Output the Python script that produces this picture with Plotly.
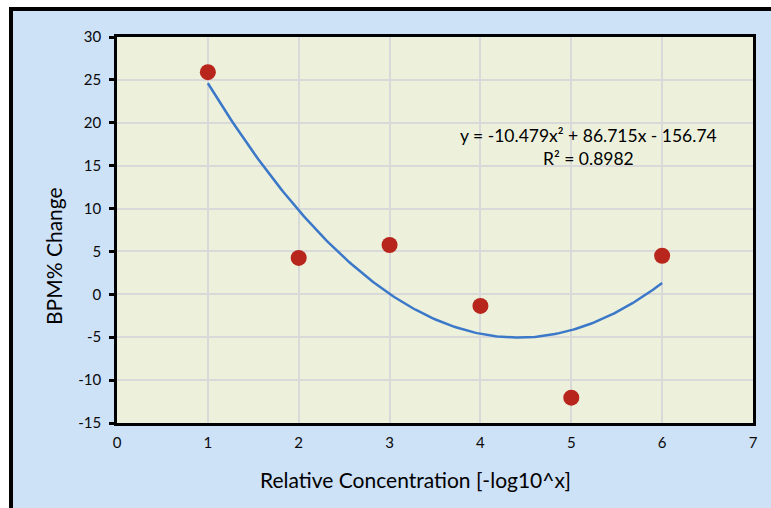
import numpy as np
import plotly.graph_objects as go

# Data
conc = [1, 2, 3, 4, 5, 6]
bpm_change = [25.9, 4.25, 5.75, -1.35, -12.05, 4.5]
x_ticks = [0, 1, 2, 3, 4, 5, 6, 7]
y_ticks = [-15, -10, -5, 0, 5, 10, 15, 20, 25, 30]
y_tick_labels = ["-15", "-10", "-5", "0", "5", "10", "15", "20", "25", "30"]
eq_text = "y = -10.479x² + 86.715x - 156.74<br>R² = 0.8982"
x_title = "Relative Concentration [-log10^x]"
y_title = "BPM% Change"

# Quadratic trendline fitted to the data
coef = np.polyfit(conc, bpm_change, 2)
xs = np.linspace(min(conc), max(conc), 200)
ys = np.polyval(coef, xs)

FONT = "Lato"
W, H = 771, 508
L, R, T, B = 117, 18, 37, 85
pw, ph = W - L - R, H - T - B
fx = lambda px: (px - L) / pw
fy = lambda py: 1 - (py - T) / ph

fig = go.Figure()
fig.add_trace(go.Scatter(x=xs, y=ys, mode="lines",
                         line=dict(color="#3c78c8", width=2.5),
                         hoverinfo="skip", showlegend=False))
fig.add_trace(go.Scatter(x=conc, y=bpm_change, mode="markers",
                         marker=dict(color="#b8251c", size=16),
                         showlegend=False))

shapes = [
    dict(type="rect", xref="paper", yref="paper", layer="below",
         x0=fx(11), x1=fx(W + 20), y0=fy(H + 20), y1=fy(9),
         fillcolor="#cde1f7", line=dict(color="black", width=4)),
    dict(type="rect", xref="paper", yref="paper", layer="below",
         x0=0, x1=1, y0=0, y1=1,
         fillcolor="#edf1dc", line=dict(width=0)),
]

annotations = [
    dict(x=fx(588), y=fy(147), xref="paper", yref="paper",
         xanchor="center", yanchor="middle",
         text=eq_text, showarrow=False, align="center",
         font=dict(family=FONT, size=17.5, color="black")),
    dict(x=fx(415), y=fy(479), xref="paper", yref="paper",
         xanchor="center", yanchor="middle", text=x_title, showarrow=False,
         font=dict(family=FONT, size=21, color="black")),
    dict(x=fx(53), y=fy(256), xref="paper", yref="paper",
         xanchor="center", yanchor="middle", text=y_title, showarrow=False,
         textangle=-90, font=dict(family=FONT, size=21, color="black")),
]

fig.update_layout(
    width=W, height=H,
    margin=dict(l=L, r=R, t=T, b=B),
    paper_bgcolor="white",
    plot_bgcolor="#edf1dc",
    font=dict(family=FONT, color="#0a0a0a", size=15),
    shapes=shapes,
    annotations=annotations,
    xaxis=dict(range=[0, 7], tickvals=x_ticks, showgrid=True,
               gridcolor="#d9d9d9", gridwidth=1.5, zeroline=False,
               showline=True, linecolor="black", linewidth=2.5, mirror=True,
               ticks="", tickfont=dict(size=15), ticklabelstandoff=4),
    yaxis=dict(range=[-15, 30], tickvals=y_ticks, ticktext=y_tick_labels,
               showgrid=True,
               gridcolor="#d9d9d9", gridwidth=1.5, zeroline=False,
               showline=True, linecolor="black", linewidth=2.5, mirror=True,
               ticks="outside", ticklen=5, tickwidth=2.5, tickcolor="black",
               tickfont=dict(size=15), ticklabelstandoff=5),
)

fig.write_html("out.html", config={"displayModeBar": False},
               post_script="document.body.style.margin='0';document.body.style.overflow='hidden';")
